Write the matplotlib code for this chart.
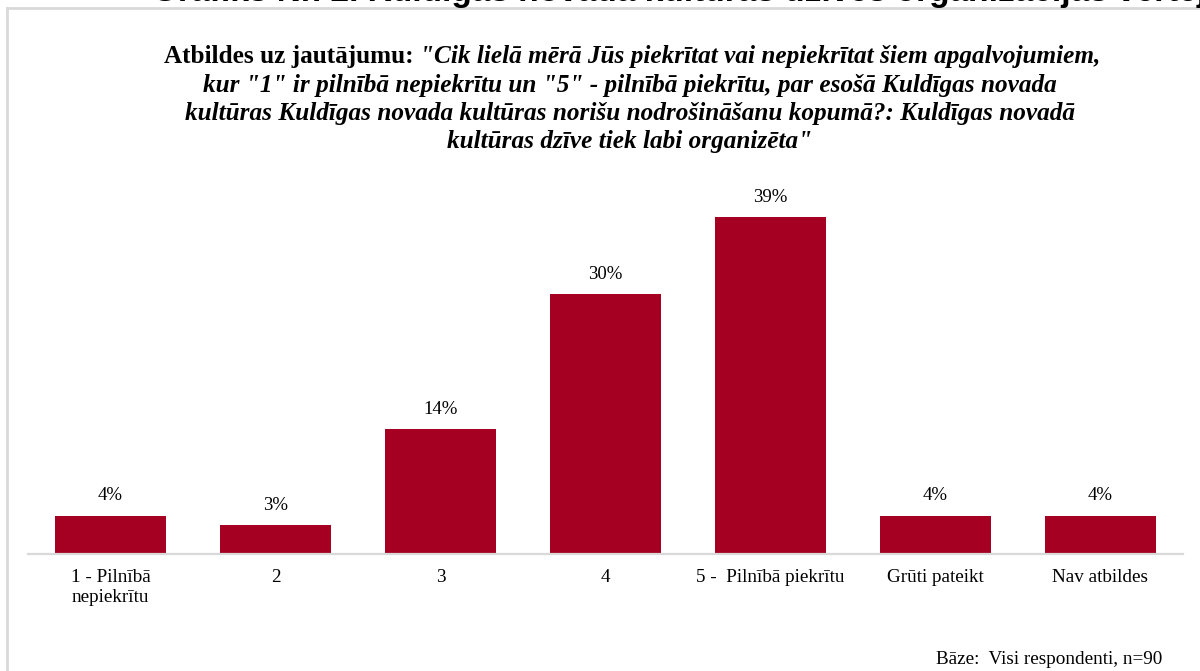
import matplotlib
matplotlib.use("Agg")
import matplotlib.pyplot as plt
from matplotlib.lines import Line2D

# answer categories and shares (%), n=90
categories = ["1 - Pilnībā\nnepiekrītu", "2", "3", "4", "5 -  Pilnībā piekrītu",
              "Grūti pateikt", "Nav atbildes"]
shares = [4.44, 3.33, 14.44, 30.0, 38.89, 4.44, 4.44]
share_labels = ["4%", "3%", "14%", "30%", "39%", "4%", "4%"]

cut_title = "Grafiks Nr. 2. Kuldīgas novada kultūras dzīves organizācijas vērtējums"
q_bold = "Atbildes uz jautājumu: "
q_lines = [
    "\"Cik lielā mērā Jūs piekrītat vai nepiekrītat šiem apgalvojumiem,",
    "kur \"1\" ir pilnībā nepiekrītu un \"5\" - pilnībā piekrītu, par esošā Kuldīgas novada",
    "kultūras Kuldīgas novada kultūras norišu nodrošināšanu kopumā?: Kuldīgas novadā",
    "kultūras dzīve tiek labi organizēta\"",
]
base_note = "Bāze:  Visi respondenti, n=90"

W, H = 1200, 671
BAR = "#a50021"
GRID = "#d9d9d9"
SERIF = ["Liberation Serif", "DejaVu Serif"]

fig = plt.figure(figsize=(W / 100, H / 100), dpi=100)
fig.patch.set_facecolor("white")

# outer frame (left + top only visible)
fig.add_artist(Line2D([7 / W, 7 / W], [0, 1 - 8 / H], transform=fig.transFigure,
                      color=GRID, lw=2))
fig.add_artist(Line2D([7 / W, 1], [1 - 8 / H, 1 - 8 / H], transform=fig.transFigure,
                      color=GRID, lw=2))

# heading of the page, cut off by the top edge as in the source
fig.text(152 / W, 1 - 1 / H, cut_title, family=["Liberation Sans", "DejaVu Sans"],
         fontsize=24, weight="bold", ha="left", va="baseline", color="black")

# axes: baseline at y=554px, 8.67 px per percent
ax = fig.add_axes([28 / W, (H - 554) / H, 1155 / W, 390 / H])
x = list(range(len(categories)))
bars = ax.bar(x, shares, width=0.667, color=BAR, zorder=2)
ax.set_xlim(-0.5, len(categories) - 0.5)
ax.set_ylim(0, 45)
for s in ("top", "right", "left"):
    ax.spines[s].set_visible(False)
ax.spines["bottom"].set_color(GRID)
ax.spines["bottom"].set_linewidth(1.6)
ax.set_yticks([])
ax.set_xticks(x)
ax.set_xticklabels(categories, family=SERIF, fontsize=13.8)
ax.tick_params(axis="x", length=0, pad=11)

for b, lab in zip(bars, share_labels):
    ax.annotate(lab, (b.get_x() + b.get_width() / 2, b.get_height()),
                xytext=(0, 8), textcoords="offset points", ha="center", va="bottom",
                family=SERIF, fontsize=13.5)

# question title: first line mixes bold and bold italic
cx = 630 / W
baselines = [63, 92, 120, 148]
fs_q = 18.2
t_b = fig.text(0, 1 - baselines[0] / H, q_bold, family=SERIF, fontsize=fs_q,
               weight="bold", ha="left", va="baseline")
t_i = fig.text(0, 1 - baselines[0] / H, q_lines[0], family=SERIF, fontsize=fs_q,
               weight="bold", style="italic", ha="left", va="baseline")
r = fig.canvas.get_renderer()
wb = t_b.get_window_extent(r).width
wi = t_i.get_window_extent(r).width
x0 = 632 - (wb + wi) / 2
t_b.set_x(x0 / W)
t_i.set_x((x0 + wb) / W)
for line, yb in zip(q_lines[1:], baselines[1:]):
    fig.text(cx, 1 - yb / H, line, family=SERIF, fontsize=fs_q, weight="bold",
             style="italic", ha="center", va="baseline")

fig.text(1162 / W, 1 - 664 / H, base_note, family=SERIF, fontsize=13.8,
         ha="right", va="baseline")

fig.savefig("out.png", dpi=100)
